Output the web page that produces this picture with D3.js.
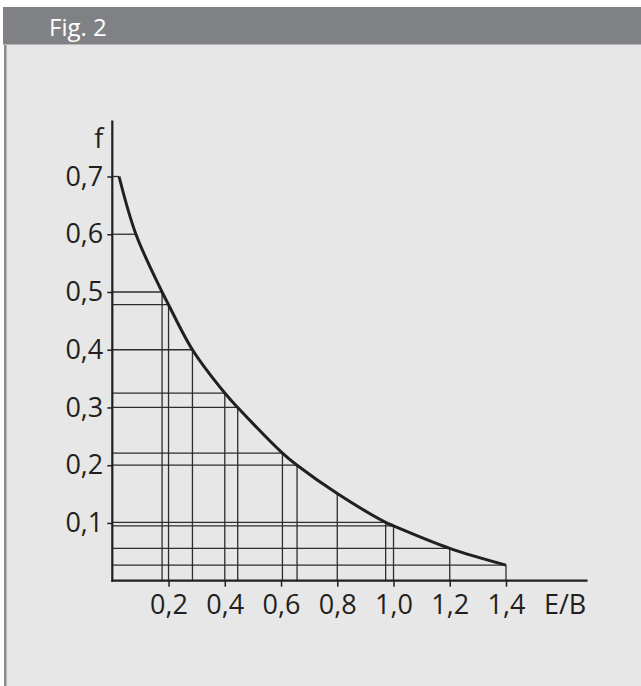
<!DOCTYPE html>
<html>
<head>
<meta charset="utf-8">
<script src="https://cdn.jsdelivr.net/npm/d3@7"></script>
<style>
  html, body { margin: 0; padding: 0; background: #fff; }
  svg text { font-family: "Open Sans", "Noto Sans", sans-serif; fill: #231f20; }
</style>
</head>
<body>
<div id="chart"></div>
<script>
// curve points (E/B, f)
const curveEB = [0.024, 0.084, 0.177, 0.2, 0.285, 0.4, 0.446, 0.605, 0.657, 0.8, 0.972, 1.0, 1.2, 1.4];
const curveF  = [0.7, 0.6, 0.5, 0.478, 0.4, 0.325, 0.3, 0.221, 0.2, 0.151, 0.101, 0.095, 0.056, 0.027];
// which points get a guide line to the f axis / to the E/B axis
const hGuide = [1, 1, 1, 1, 1, 1, 1, 1, 1, 0, 1, 1, 1, 1];
const vGuide = [0, 0, 1, 1, 1, 1, 1, 1, 1, 1, 1, 1, 1, 1];

const xTicks = [0.2, 0.4, 0.6, 0.8, 1.0, 1.2, 1.4];
const yTicks = [0.1, 0.2, 0.3, 0.4, 0.5, 0.6, 0.7];
const title = "Fig. 2";
const xLabel = "E/B";
const yLabel = "f";

const W = 641, H = 686;
const svg = d3.select("#chart").append("svg")
  .attr("width", W).attr("height", H);

// panel + header
svg.append("rect").attr("x", 4).attr("y", 44).attr("width", W - 4).attr("height", H - 44).attr("fill", "#e6e7e6");
svg.append("rect").attr("x", 4).attr("y", 44).attr("width", 2.5).attr("height", H - 44).attr("fill", "#8b8b8d");
svg.append("rect").attr("x", 3).attr("y", 7).attr("width", W - 3).attr("height", 37).attr("fill", "#808184");
svg.append("rect").attr("x", 3).attr("y", 44).attr("width", W - 3).attr("height", 1).attr("fill", "#b8b9ba");
svg.append("text").attr("x", 49).attr("y", 36)
  .style("font-size", "24px").style("fill", "#ffffff").text(title);

const x = d3.scaleLinear().domain([0, 1.4]).range([112.3, 506]);
const y = d3.scaleLinear().domain([0, 0.7]).range([580.7, 176.5]);

const pts = curveEB.map((e, i) => ({ e, f: curveF[i], h: hGuide[i], v: vGuide[i] }));
const fmt = d => d3.format(".1f")(d).replace(".", ",");

const g = svg.append("g");

// guide lines
g.selectAll(".hg").data(pts.filter(d => d.h)).join("line")
  .attr("class", "hg")
  .attr("x1", x(0)).attr("x2", d => x(d.e))
  .attr("y1", d => y(d.f)).attr("y2", d => y(d.f))
  .attr("stroke", "#2e2c2d").attr("stroke-width", 1.3);
g.selectAll(".vg").data(pts.filter(d => d.v)).join("line")
  .attr("class", "vg")
  .attr("x1", d => x(d.e)).attr("x2", d => x(d.e))
  .attr("y1", y(0)).attr("y2", d => y(d.f))
  .attr("stroke", "#2e2c2d").attr("stroke-width", 1.3);

// axes
const yAxis = d3.axisLeft(y).tickValues(yTicks).tickSize(5).tickPadding(4).tickFormat(fmt).tickSizeOuter(0);
const xAxis = d3.axisBottom(x).tickValues(xTicks).tickSize(6).tickPadding(8).tickFormat(fmt).tickSizeOuter(0);

const ya = g.append("g").attr("transform", `translate(${x(0)},0)`).call(yAxis);
const xa = g.append("g").attr("transform", `translate(0,${y(0)})`).call(xAxis);
[ya, xa].forEach(a => {
  a.select(".domain").remove();
  a.selectAll(".tick line").attr("stroke", "#231f20").attr("stroke-width", 1.5);
  a.selectAll(".tick text").style("font-size", "27px").style("fill", "#231f20").attr("font-family", null);
});

g.append("line").attr("x1", x(0)).attr("x2", x(0))
  .attr("y1", y(0) + 1).attr("y2", y(0.797))
  .attr("stroke", "#231f20").attr("stroke-width", 2.2);
g.append("line").attr("x1", x(0) - 1).attr("x2", x(1.69))
  .attr("y1", y(0)).attr("y2", y(0))
  .attr("stroke", "#231f20").attr("stroke-width", 2.2);

// axis titles
g.append("text").attr("x", x(0) - 9).attr("y", y(0.75))
  .attr("text-anchor", "end").style("font-size", "27px").text(yLabel);
g.append("text").attr("x", x(1.61)).attr("y", y(0) + 33)
  .attr("text-anchor", "middle").style("font-size", "27px").text(xLabel);

// curve
const line = d3.line().x(d => x(d.e)).y(d => y(d.f)).curve(d3.curveCatmullRom.alpha(0.5));
g.append("path").datum(pts).attr("d", line)
  .attr("fill", "none").attr("stroke", "#231f20").attr("stroke-width", 3);
</script>
</body>
</html>
